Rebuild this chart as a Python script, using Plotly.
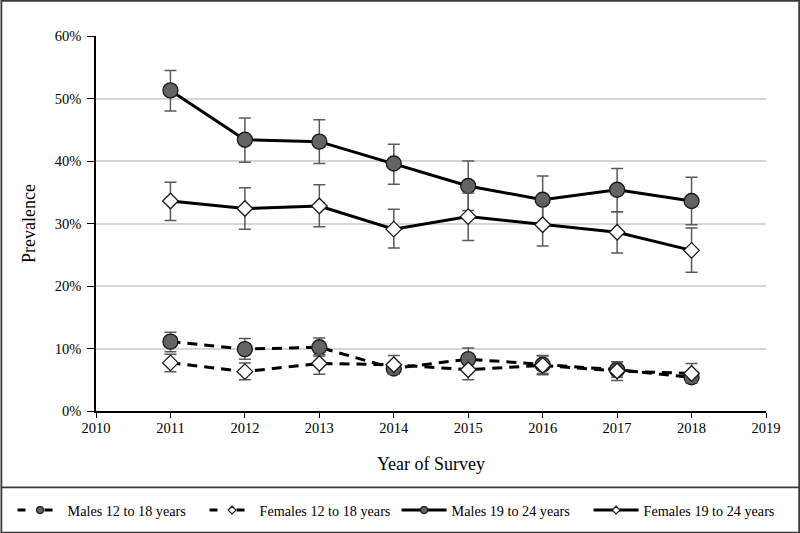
import plotly.graph_objects as go

years = [2011, 2012, 2013, 2014, 2015, 2016, 2017, 2018]

series_names = ["Males 12 to 18 years", "Females 12 to 18 years",
                "Males 19 to 24 years", "Females 19 to 24 years"]

males_12_18 = [11.1, 9.9, 10.2, 6.8, 8.3, 7.4, 6.6, 5.4]
males_12_18_hi = [12.6, 11.6, 11.7, 7.8, 10.1, 8.9, 7.9, 6.3]
males_12_18_lo = [9.5, 8.3, 8.8, 5.9, 6.7, 6.0, 5.4, 4.5]

females_12_18 = [7.7, 6.3, 7.6, 7.4, 6.6, 7.3, 6.4, 6.0]
females_12_18_hi = [9.1, 7.7, 9.0, 8.9, 8.2, 8.8, 7.9, 7.6]
females_12_18_lo = [6.3, 5.0, 5.9, 5.9, 5.0, 5.8, 4.9, 4.6]

males_19_24 = [51.3, 43.4, 43.1, 39.6, 36.0, 33.8, 35.4, 33.6]
males_19_24_hi = [54.5, 46.9, 46.6, 42.7, 40.0, 37.6, 38.8, 37.4]
males_19_24_lo = [48.0, 39.8, 39.6, 36.3, 32.1, 30.0, 31.9, 29.8]

females_19_24 = [33.6, 32.4, 32.8, 29.1, 31.1, 29.8, 28.6, 25.7]
females_19_24_hi = [36.6, 35.7, 36.2, 32.3, 34.9, 33.2, 31.9, 29.3]
females_19_24_lo = [30.5, 29.1, 29.5, 26.1, 27.3, 26.4, 25.3, 22.2]

y_ticks = [0, 10, 20, 30, 40, 50, 60]
x_ticks = [2010, 2011, 2012, 2013, 2014, 2015, 2016, 2017, 2018, 2019]

FONT = "Liberation Serif, Times New Roman, serif"
GRAY_FILL = "#636363"
ERR = "#5a5a5a"

styles = [
    dict(vals=males_12_18, hi=males_12_18_hi, lo=males_12_18_lo, dash="10px,7px",
         symbol="circle", fill=GRAY_FILL, size=15),
    dict(vals=females_12_18, hi=females_12_18_hi, lo=females_12_18_lo, dash="10px,7px",
         symbol="diamond", fill="white", size=12),
    dict(vals=males_19_24, hi=males_19_24_hi, lo=males_19_24_lo, dash="solid",
         symbol="circle", fill=GRAY_FILL, size=15),
    dict(vals=females_19_24, hi=females_19_24_hi, lo=females_19_24_lo, dash="solid",
         symbol="diamond", fill="white", size=12),
]

fig = go.Figure()
for name, s in zip(series_names, styles):
    fig.add_trace(go.Scatter(
        x=years, y=s["vals"], mode="lines+markers", name=name, showlegend=False,
        line=dict(color="black", width=3, dash=s["dash"]),
        marker=dict(symbol=s["symbol"], size=s["size"], color=s["fill"],
                    line=dict(color="#1a1a1a", width=1.3)),
        error_y=dict(type="data", symmetric=False,
                     array=[h - v for h, v in zip(s["hi"], s["vals"])],
                     arrayminus=[v - l for l, v in zip(s["lo"], s["vals"])],
                     color=ERR, thickness=1.5, width=6),
    ))

# legend entries (small markers like the reference)
for name, s in zip(series_names, styles):
    fig.add_trace(go.Scatter(
        x=[None], y=[None], mode="lines+markers", name=name, showlegend=True,
        line=dict(color="black", width=3, dash=("8px,19px" if s["dash"] != "solid" else "solid")),
        marker=dict(symbol=s["symbol"], size=7 if s["symbol"] == "circle" else 6,
                    color=s["fill"], line=dict(color="#1a1a1a", width=1.2)),
    ))

L, R, T, B = 95.5, 766.0, 36.0, 410.7
W, H = R - L, B - T


def px(x):
    return (x - L) / W


def py(y):
    return (B - y) / H


shapes = [
    dict(type="rect", xref="paper", yref="paper",
         x0=px(0.8), x1=px(799.2), y0=py(0.8), y1=py(532.2),
         line=dict(color="#3a3a3a", width=1.8), fillcolor="rgba(0,0,0,0)", layer="above"),
    dict(type="line", xref="paper", yref="paper",
         x0=px(0.8), x1=px(799.2), y0=py(487), y1=py(487),
         line=dict(color="#3a3a3a", width=1.8), layer="above"),
]

fig.update_layout(
    width=800, height=533,
    margin=dict(l=L, r=800 - R, t=T, b=533 - B, autoexpand=False),
    paper_bgcolor="white", plot_bgcolor="white",
    font=dict(family=FONT, size=14, color="black"),
    shapes=shapes,
    showlegend=True,
    legend=dict(orientation="h", xref="paper", yref="paper",
                x=px(12), xanchor="left", y=py(510), yanchor="middle",
                font=dict(family=FONT, size=14.2, color="black"),
                itemwidth=45, entrywidth=132, entrywidthmode="pixels",
                tracegroupgap=0, bgcolor="rgba(0,0,0,0)"),
    xaxis=dict(range=[2010, 2019], tickvals=x_ticks, ticktext=[str(t) for t in x_ticks],
               showgrid=False, zeroline=False, showline=True, linecolor="black",
               linewidth=1.5, ticks="outside", ticklen=5, tickcolor="black",
               ticklabelstandoff=-2,
               tickfont=dict(family=FONT, size=14.5),
               title=dict(text="Year of Survey", font=dict(family=FONT, size=18),
                          standoff=22)),
    yaxis=dict(range=[0, 60], tickvals=y_ticks, ticktext=[f"{t}%" for t in y_ticks],
               showgrid=True, gridcolor="#d6d6d6", gridwidth=1.5, zeroline=False,
               showline=True, linecolor="black", linewidth=1.5,
               ticks="outside", ticklen=7, tickcolor="black",
               ticklabelstandoff=3,
               tickfont=dict(family=FONT, size=14.5),
               title=dict(text="Prevalence", font=dict(family=FONT, size=18),
                          standoff=14)),
)

fig.write_html("out.html", config={"displayModeBar": False},
               post_script="document.body.style.margin='0';")
